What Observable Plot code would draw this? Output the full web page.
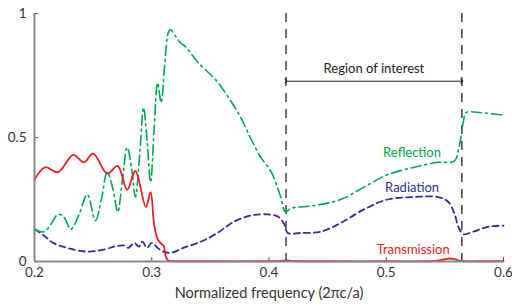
<!DOCTYPE html>
<html><head><meta charset="utf-8">
<script src="https://cdn.jsdelivr.net/npm/d3@7"></script>
<script src="https://cdn.jsdelivr.net/npm/@observablehq/plot@0.6"></script>
<style>body{margin:0;background:#fff}</style></head>
<body><div id="chart"></div>
<script>
const transFreq = [0.200,0.209,0.220,0.233,0.242,0.250,0.262,0.271,0.279,0.286,0.295,0.299,0.302,0.305,0.308,0.310,0.312,0.314,0.318,0.330,0.350,0.400,0.410,0.415,0.420,0.450,0.500,0.540,0.548,0.553,0.558,0.562,0.566,0.580,0.600];
const transVal  = [0.33,0.38,0.36,0.43,0.40,0.435,0.355,0.385,0.29,0.365,0.22,0.28,0.15,0.09,0.072,0.065,0.02,0.004,0.002,0.001,0.001,0.001,0.002,0.004,0.002,0.001,0.001,0.002,0.007,0.012,0.010,0.004,0.001,0.001,0.001];

const reflFreq = [0.200,0.208,0.214,0.220,0.225,0.231,0.238,0.245,0.252,0.257,0.262,0.267,0.271,0.275,0.279,0.283,0.286,0.290,0.293,0.296,0.299,0.302,0.305,0.308,0.311,0.314,0.316,0.320,0.325,0.329,0.340,0.355,0.367,0.376,0.384,0.393,0.402,0.410,0.414,0.419,0.438,0.461,0.481,0.501,0.524,0.544,0.558,0.562,0.566,0.568,0.581,0.600];
const reflVal  = [0.13,0.12,0.15,0.19,0.18,0.13,0.19,0.27,0.165,0.25,0.36,0.29,0.20,0.33,0.46,0.37,0.26,0.45,0.62,0.49,0.32,0.53,0.72,0.64,0.79,0.92,0.935,0.91,0.88,0.865,0.80,0.73,0.65,0.58,0.50,0.42,0.36,0.26,0.20,0.215,0.225,0.25,0.30,0.35,0.38,0.40,0.405,0.46,0.57,0.60,0.60,0.59];

const radFreq = [0.200,0.208,0.216,0.228,0.244,0.259,0.268,0.276,0.280,0.285,0.289,0.292,0.296,0.300,0.305,0.310,0.316,0.327,0.342,0.356,0.370,0.384,0.399,0.408,0.413,0.416,0.427,0.444,0.461,0.481,0.501,0.524,0.544,0.553,0.558,0.562,0.566,0.574,0.587,0.600];
const radVal  = [0.13,0.105,0.075,0.055,0.04,0.048,0.06,0.065,0.055,0.075,0.06,0.08,0.055,0.075,0.055,0.04,0.035,0.055,0.08,0.115,0.16,0.185,0.19,0.18,0.15,0.115,0.115,0.12,0.155,0.21,0.25,0.26,0.26,0.24,0.195,0.135,0.11,0.12,0.14,0.145];

const regionBounds = [0.4145, 0.5645];
const regionArrowY = 0.727;
const regionLabel = "Region of interest";
const seriesLabels = ["Reflection", "Radiation", "Transmission"];
const seriesLabelX = [0.522, 0.522, 0.523];
const seriesLabelY = [0.44, 0.297, 0.048];
const xTicks = [0.2, 0.3, 0.4, 0.5, 0.6];
const yTicks = [0, 0.5, 1];
const xLabel = "Normalized frequency (2\u03c0c/a)";

const colors = {Reflection: "#00a651", Radiation: "#2e3192", Transmission: "#ed1c24"};

const trans = transFreq.map((f, i) => ({f, v: transVal[i]}));
const refl = reflFreq.map((f, i) => ({f, v: reflVal[i]}));
const rad = radFreq.map((f, i) => ({f, v: radVal[i]}));
const labels = seriesLabels.map((s, i) => ({s, x: seriesLabelX[i], y: seriesLabelY[i]}));

const font = "Lato, 'Open Sans', sans-serif";
const chart = Plot.plot({
  width: 512, height: 306,
  marginLeft: 34, marginRight: 9, marginTop: 13, marginBottom: 45,
  style: {fontFamily: font, fontSize: "13px", color: "#333", background: "#fff"},
  x: {domain: [0.2, 0.6]},
  y: {domain: [0, 1]},
  marks: [
    Plot.axisX({ticks: xTicks, tickFormat: d => String(d), tickSize: -4, tickPadding: 10, stroke: "#555", fontSize: 13.5, label: null}),
    Plot.axisY({ticks: yTicks, tickFormat: d => String(d), tickSize: -4, tickPadding: 12, stroke: "#555", fontSize: 13.5, label: null}),
    Plot.text([xLabel], {frameAnchor: "bottom", dy: 36, text: d => d, fill: "#333", fontSize: 14.5}),
    Plot.ruleX(regionBounds, {stroke: "#111", strokeWidth: 1.2, strokeDasharray: "9,7"}),
    Plot.link([{x1: regionBounds[0], x2: regionBounds[1], y: regionArrowY}], {x1: "x1", x2: "x2", y1: "y", y2: "y", stroke: "#222", strokeWidth: 1, markerStart: "arrow", markerEnd: "arrow"}),
    Plot.text([regionLabel], {x: (regionBounds[0] + regionBounds[1]) / 2, y: 0.775, text: d => d, fill: "#222", fontSize: 13}),
    Plot.line(rad, {x: "f", y: "v", stroke: colors.Radiation, strokeWidth: 1.8, strokeDasharray: "6,4", curve: "catmull-rom"}),
    Plot.line(refl, {x: "f", y: "v", stroke: colors.Reflection, strokeWidth: 1.6, strokeDasharray: "10,4,2,4", curve: "catmull-rom"}),
    Plot.line(trans, {x: "f", y: "v", stroke: colors.Transmission, strokeWidth: 1.8, curve: "catmull-rom"}),
    Plot.ruleX([0.2], {stroke: "#888", strokeWidth: 2}),
    Plot.ruleY([0], {stroke: "#888", strokeWidth: 2}),
    Plot.text(labels, {x: "x", y: "y", text: "s", fill: d => colors[d.s], fontSize: 13})
  ]
});
document.getElementById("chart").appendChild(chart);
</script></body></html>
